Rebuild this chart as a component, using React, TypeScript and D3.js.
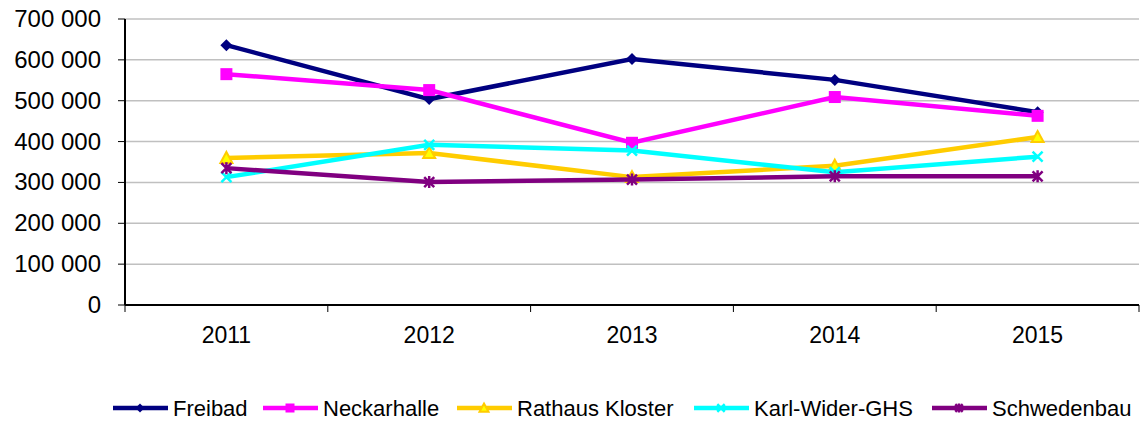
import React from "react";
import * as d3 from "d3";

const years = ["2011", "2012", "2013", "2014", "2015"];
const freibad = [636000, 504000, 602000, 551000, 472000];
const neckarhalle = [565000, 526000, 397000, 509000, 463000];
const rathausKloster = [360000, 372000, 313000, 341000, 411000];
const karlWider = [313000, 392000, 378000, 325000, 363000];
const schwedenbau = [335000, 301000, 307000, 315000, 315000];
const yTicks = [0, 100000, 200000, 300000, 400000, 500000, 600000, 700000];

const series = [
  { name: "Freibad", values: freibad, color: "#000080", marker: "diamond" },
  { name: "Neckarhalle", values: neckarhalle, color: "#ff00ff", marker: "square" },
  { name: "Rathaus Kloster", values: rathausKloster, color: "#ffcc00", marker: "triangle" },
  { name: "Karl-Wider-GHS", values: karlWider, color: "#00ffff", marker: "x" },
  { name: "Schwedenbau", values: schwedenbau, color: "#800080", marker: "star" },
];

const legendX = [113, 263, 457, 694, 932];

const W = 1146, H = 421;
const left = 125, right = 1139, top = 19, bottom = 305;
const font = "'Liberation Sans', Arial, sans-serif";

function fmt(v: number) {
  return d3.format(",")(v).replace(/,/g, " ");
}

function Marker({ type, x, y, color, s = 1 }: { type: string; x: number; y: number; color: string; s?: number }) {
  const a = 6 * s, b = 5 * s;
  if (type === "diamond") {
    return <path d={`M${x},${y - a}L${x + a},${y}L${x},${y + a}L${x - a},${y}Z`} fill={color} />;
  }
  if (type === "square") {
    return <rect x={x - a} y={y - a} width={2 * a} height={2 * a} fill={color} />;
  }
  if (type === "triangle") {
    return <path d={`M${x},${y - a}L${x + a},${y + b}L${x - a},${y + b}Z`} fill="#ffff00" stroke={color} strokeWidth={2} />;
  }
  if (type === "x") {
    return (
      <path d={`M${x - b},${y - b}L${x + b},${y + b}M${x + b},${y - b}L${x - b},${y + b}`} stroke={color} strokeWidth={2.5} />
    );
  }
  return (
    <path
      d={`M${x - b},${y - b}L${x + b},${y + b}M${x + b},${y - b}L${x - b},${y + b}M${x},${y - a}L${x},${y + a}`}
      stroke={color}
      strokeWidth={2.5}
    />
  );
}

export default function App() {
  const x = d3.scaleBand<string>().domain(years).range([left, right]);
  const y = d3.scaleLinear().domain([0, 700000]).range([bottom, top]);
  const cx = (d: string) => (x(d) ?? 0) + x.bandwidth() / 2;
  const line = d3
    .line<number>()
    .x((_, i) => cx(years[i]))
    .y((v) => y(v));
  const edges = years.map((d) => x(d) ?? 0).concat([right]);

  return (
    <svg width={W} height={H} style={{ position: "absolute", left: 0, top: 0 }} fontFamily={font}>
      <rect width={W} height={H} fill="#fff" />
      {yTicks.map((t) => (
        <g key={t}>
          {t > 0 && <line x1={left} x2={right} y1={y(t)} y2={y(t)} stroke="#c0c0c0" strokeWidth={1.5} />}
          <line x1={left - 7} x2={left} y1={y(t)} y2={y(t)} stroke="#000" strokeWidth={1} />
          <text x={101} y={y(t) + 8} textAnchor="end" fontSize={24} fill="#000">
            {fmt(t)}
          </text>
        </g>
      ))}
      <line x1={left} x2={left} y1={top} y2={bottom} stroke="#000" strokeWidth={2} />
      <line x1={left} x2={right} y1={bottom} y2={bottom} stroke="#000" strokeWidth={2} />
      {edges.map((e, i) => (
        <line key={i} x1={e} x2={e} y1={bottom} y2={bottom + 7} stroke="#000" strokeWidth={1} />
      ))}
      {years.map((d) => (
        <text key={d} x={cx(d)} y={343} textAnchor="middle" fontSize={23} fill="#000">
          {d}
        </text>
      ))}
      {series.map((s) => (
        <g key={s.name}>
          <path d={line(s.values) ?? ""} fill="none" stroke={s.color} strokeWidth={4.5} />
          {s.values.map((v, i) => (
            <Marker key={i} type={s.marker} x={cx(years[i])} y={y(v)} color={s.color} />
          ))}
        </g>
      ))}
      {series.map((s, i) => (
        <g key={s.name}>
          <line x1={legendX[i]} x2={legendX[i] + 55} y1={408} y2={408} stroke={s.color} strokeWidth={4.5} />
          <Marker type={s.marker} x={legendX[i] + 27} y={408} color={s.color} s={0.75} />
          <text x={legendX[i] + 60} y={416} fontSize={22} fill="#000">
            {s.name}
          </text>
        </g>
      ))}
    </svg>
  );
}
